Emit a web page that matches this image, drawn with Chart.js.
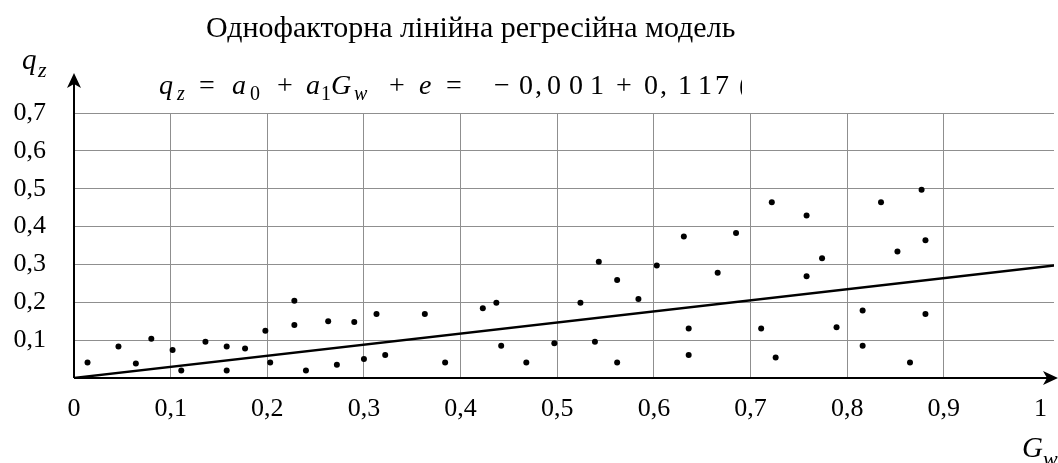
<!DOCTYPE html>
<html>
<head>
<meta charset="utf-8">
<title>Однофакторна лінійна регресійна модель</title>
<script src="https://cdn.jsdelivr.net/npm/chart.js@4.4.1/dist/chart.umd.min.js"></script>
<style>
    html, body { margin: 0; padding: 0; background: #fff; }
    #wrap { width: 1058px; height: 463px; position: relative; }
</style>
</head>
<body>
<div id="wrap"><canvas id="regChart"></canvas></div>
<script>
// observed points: G_w (x) and q_z (y)
const gwValues = [0.014, 0.046, 0.064, 0.080, 0.102, 0.111, 0.136, 0.158, 0.158, 0.177,
    0.198, 0.203, 0.228, 0.228, 0.240, 0.263, 0.272, 0.290, 0.300, 0.313,
    0.322, 0.363, 0.384, 0.423, 0.437, 0.442, 0.468, 0.497, 0.524, 0.543,
    0.539, 0.562, 0.562, 0.584, 0.603, 0.631, 0.636, 0.636, 0.666, 0.685,
    0.722, 0.758, 0.774, 0.758, 0.711, 0.726, 0.789, 0.816, 0.816, 0.835,
    0.852, 0.877, 0.881, 0.881, 0.865];
const qzValues = [0.041, 0.083, 0.038, 0.104, 0.074, 0.020, 0.096, 0.083, 0.020, 0.078,
    0.125, 0.041, 0.204, 0.140, 0.020, 0.150, 0.035, 0.148, 0.050, 0.169,
    0.061, 0.169, 0.041, 0.184, 0.199, 0.085, 0.041, 0.092, 0.199, 0.307,
    0.096, 0.259, 0.041, 0.209, 0.297, 0.374, 0.131, 0.061, 0.278, 0.383,
    0.464, 0.429, 0.316, 0.269, 0.131, 0.054, 0.134, 0.178, 0.085, 0.464,
    0.334, 0.497, 0.364, 0.169, 0.041];

// fitted line, read at both ends
const lineX = [0, 1.02];
const lineY = [0, 0.299];

const xTicks = [0, 0.1, 0.2, 0.3, 0.4, 0.5, 0.6, 0.7, 0.8, 0.9, 1];
const xTickLabels = ['0', '0,1', '0,2', '0,3', '0,4', '0,5', '0,6', '0,7', '0,8', '0,9', '1'];
const yTickLabels = ['', '0,1', '0,2', '0,3', '0,4', '0,5', '0,6', '0,7'];

const chartTitle = 'Однофакторна лінійна регресійна модель';

const SERIF = '"Liberation Serif", "Times New Roman", serif';
const GRID = '#8f8f8f';

// equation pieces: text, x, style (i = italic, s = subscript)
const eqParts = [
    ['q', 159, 'i'], ['z', 177, 'is'], ['=', 199, ''], ['a', 232, 'i'], ['0', 250, 's'],
    ['+', 277, ''], ['a', 306, 'i'], ['1', 321, 's'], ['G', 331, 'i'], ['w', 354, 'is'],
    ['+', 389, ''], ['e', 419, 'i'], ['=', 446, ''], ['\u2212', 494, ''], ['0', 519, ''],
    [',', 535, ''], ['0', 547, ''], ['0', 569, ''], ['1', 590, ''], ['+', 616, ''],
    ['0', 644, ''], [',', 660, ''], ['1', 678, ''], ['1', 698, ''], ['7', 715, ''], ['(', 739, '']
];

function drawArrow(c, tipX, tipY, dir) {
    // dir: 'up' or 'right'
    c.beginPath();
    if (dir === 'up') {
        c.moveTo(tipX, tipY);
        c.lineTo(tipX + 7, tipY + 15);
        c.lineTo(tipX, tipY + 11);
        c.lineTo(tipX - 7, tipY + 15);
    } else {
        c.moveTo(tipX, tipY);
        c.lineTo(tipX - 15, tipY + 7);
        c.lineTo(tipX - 11, tipY);
        c.lineTo(tipX - 15, tipY - 7);
    }
    c.closePath();
    c.fill();
}

const overlayPlugin = {
    id: 'overlay',
    afterDraw(chart) {
        const c = chart.ctx;
        const a = chart.chartArea;
        c.save();
        c.fillStyle = '#000';
        c.strokeStyle = '#000';
        c.lineWidth = 2;

        // axes with arrows
        c.beginPath();
        c.moveTo(a.left, a.bottom);
        c.lineTo(a.left, 84);
        c.moveTo(a.left, a.bottom);
        c.lineTo(1050, a.bottom);
        c.stroke();
        drawArrow(c, a.left, 73, 'up');
        drawArrow(c, 1058, a.bottom, 'right');

        // title
        c.textBaseline = 'alphabetic';
        c.textAlign = 'left';
        c.font = '30px ' + SERIF;
        c.fillText(chartTitle, 206, 37);

        // axis names
        c.font = 'italic 29px ' + SERIF;
        c.fillText('q', 22, 69);
        c.font = 'italic 22px ' + SERIF;
        c.fillText('z', 38, 77);
        c.font = 'italic 29px ' + SERIF;
        c.fillText('G', 1022, 457);
        c.font = 'italic 22px ' + SERIF;
        c.fillText('w', 1043, 466);

        // equation, cut off on the right like the original text box
        c.beginPath();
        c.rect(150, 70, 592, 45);
        c.clip();
        eqParts.forEach(p => {
            const italic = p[2].indexOf('i') >= 0;
            const sub = p[2].indexOf('s') >= 0;
            c.font = (italic ? 'italic ' : '') + (sub ? '20px ' : '28px ') + SERIF;
            c.fillText(p[0], p[1], sub ? 100 : 94);
        });
        c.restore();
    }
};

const points = gwValues.map((x, i) => ({ x: x, y: qzValues[i] }));
const linePts = lineX.map((x, i) => ({ x: x, y: lineY[i] }));

const ctx = document.getElementById('regChart').getContext('2d');
new Chart(ctx, {
    type: 'scatter',
    data: {
        datasets: [
            {
                label: 'q_z',
                data: points,
                backgroundColor: '#000',
                borderWidth: 0,
                pointRadius: 3,
                order: 1
            },
            {
                label: 'fit',
                data: linePts,
                showLine: true,
                borderColor: '#000',
                borderWidth: 2.3,
                pointRadius: 0,
                order: 2
            }
        ]
    },
    options: {
        responsive: true,
        maintainAspectRatio: false,
        animation: false,
        layout: { padding: { top: 113, right: 0, left: 0, bottom: 0 } },
        plugins: {
            legend: { display: false },
            tooltip: { enabled: false },
            title: { display: false }
        },
        scales: {
            x: {
                type: 'linear',
                min: 0,
                max: 1.014,
                afterBuildTicks: (scale) => { scale.ticks = xTicks.map(v => ({ value: v })); },
                afterFit: (scale) => {
                    scale.height = 85;
                    scale.paddingLeft = 0;
                    scale.paddingRight = 0;
                },
                grid: {
                    color: (c) => (c.tick && c.tick.value > 0.95) ? 'rgba(0,0,0,0)' : GRID,
                    lineWidth: 1,
                    drawTicks: false
                },
                border: { display: false },
                ticks: {
                    color: '#000',
                    padding: 16,
                    maxRotation: 0,
                    autoSkip: false,
                    font: { family: SERIF, size: 26 },
                    callback: (v) => xTickLabels[xTicks.indexOf(Math.round(v * 10) / 10)]
                }
            },
            y: {
                type: 'linear',
                min: 0,
                max: 0.7,
                afterFit: (scale) => {
                    scale.width = 74;
                    scale.paddingTop = 0;
                    scale.paddingBottom = 0;
                },
                grid: { color: GRID, lineWidth: 1, drawTicks: false },
                border: { display: false },
                ticks: {
                    stepSize: 0.1,
                    color: '#000',
                    padding: 28,
                    font: { family: SERIF, size: 26 },
                    callback: (v) => yTickLabels[Math.round(v * 10)]
                }
            }
        }
    },
    plugins: [overlayPlugin]
});
</script>
</body>
</html>
